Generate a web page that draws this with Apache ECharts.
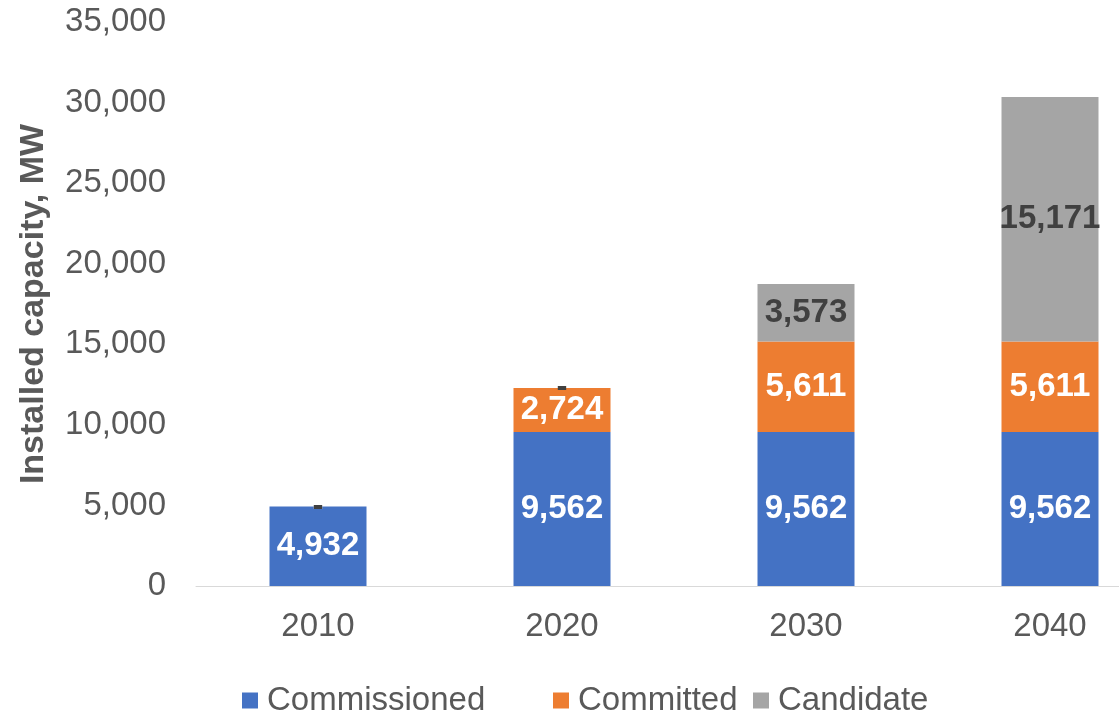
<!DOCTYPE html>
<html>
<head>
<meta charset="utf-8">
<title>Installed capacity</title>
<script src="https://cdn.jsdelivr.net/npm/echarts@6/dist/echarts.min.js"></script>
<style>
  html, body { margin: 0; padding: 0; background: #ffffff; overflow: hidden; }
  /* canvas runs past the right edge so the last category band is cut like the axis line */
  #chart { width: 1200px; height: 714px; }
</style>
</head>
<body>
<div id="chart"></div>
<script>
// Installed capacity by year, stacked by project status (MW)
const years = ['2010', '2020', '2030', '2040'];
const commissioned = [4932, 9562, 9562, 9562];
const committed = [0, 2724, 5611, 5611];
const candidate = [0, 0, 3573, 15171];
const yTicks = { min: 0, max: 35000, interval: 5000 };

const FONT = '"Liberation Sans", Arial, Helvetica, sans-serif';
const fmt = v => v.toLocaleString('en-US');
// zero values are shown as a dash, as in accounting number format
const labelText = p => (p.value === 0 ? '-' : fmt(p.value));

function barSeries(name, data, color, labelColor) {
  return {
    name: name,
    type: 'bar',
    stack: 'total',
    data: data,
    barWidth: 97,
    itemStyle: { color: color },
    label: {
      show: true,
      position: 'inside',
      color: labelColor,
      fontFamily: FONT,
      fontSize: 33,
      fontWeight: 'bold',
      formatter: labelText
    }
  };
}

function legendAt(name, left) {
  return {
    data: [name],
    left: left,
    top: 684,
    padding: 0,
    itemWidth: 16,
    itemHeight: 16,
    icon: 'rect',
    textStyle: {
      color: '#595959',
      fontFamily: FONT,
      fontSize: 33,
      padding: [0, 0, 0, 4]
    }
  };
}

const chart = echarts.init(document.getElementById('chart'), null, { renderer: 'canvas' });

chart.setOption({
  animation: false,
  backgroundColor: '#ffffff',
  grid: { left: 196, top: 22, width: 976, height: 564, containLabel: false },
  legend: [
    legendAt('Commissioned', 242),
    legendAt('Committed', 553),
    legendAt('Candidate', 753)
  ],
  xAxis: {
    type: 'category',
    data: years,
    axisLine: { show: true, lineStyle: { color: '#D9D9D9', width: 1 } },
    axisTick: { show: false },
    axisLabel: {
      color: '#595959',
      fontFamily: FONT,
      fontSize: 33,
      margin: 24
    }
  },
  yAxis: {
    type: 'value',
    min: yTicks.min,
    max: yTicks.max,
    interval: yTicks.interval,
    name: 'Installed capacity, MW',
    nameLocation: 'middle',
    nameGap: 145,
    nameTextStyle: {
      color: '#595959',
      fontFamily: FONT,
      fontSize: 34,
      fontWeight: 'bold'
    },
    axisLine: { show: false },
    axisTick: { show: false },
    splitLine: { show: false },
    axisLabel: {
      color: '#595959',
      fontFamily: FONT,
      fontSize: 33,
      margin: 30,
      formatter: v => fmt(v)
    }
  },
  series: [
    barSeries('Commissioned', commissioned, '#4472C4', '#ffffff'),
    barSeries('Committed', committed, '#ED7D31', '#ffffff'),
    barSeries('Candidate', candidate, '#A5A5A5', '#404040')
  ]
});
</script>
</body>
</html>
